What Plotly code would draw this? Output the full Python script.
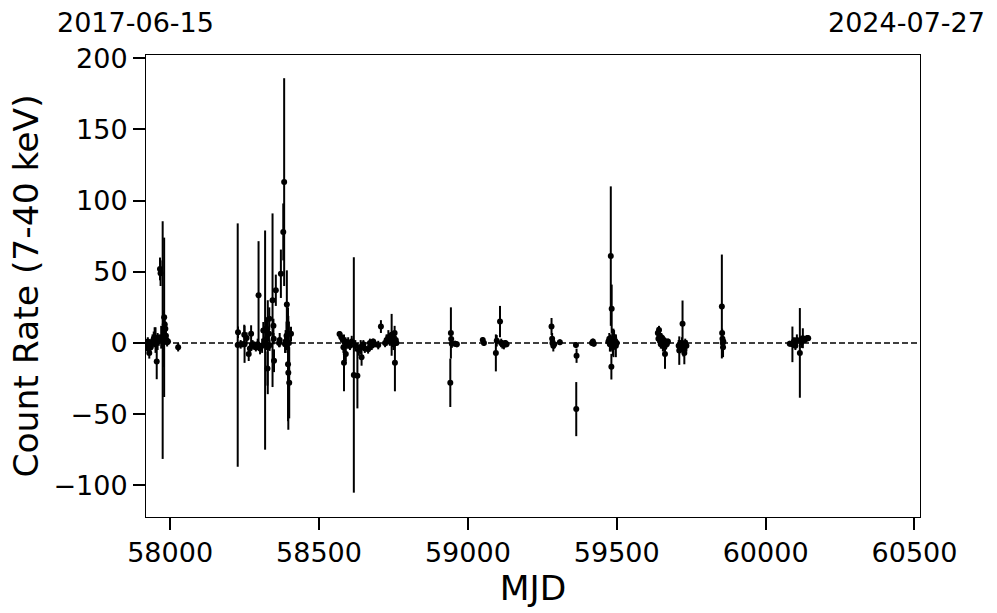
import plotly.graph_objects as go

# ---- data ----
mjd = [
    # 2017 cluster
    57922, 57925, 57927, 57930, 57934, 57938, 57941, 57945, 57948, 57951, 57955, 57958, 57962,
    57966, 57968, 57970, 57975, 57978, 57980, 57982, 57984, 57986, 57988, 57990, 57993, 58027,
    # 2018 cluster
    58227, 58228, 58237, 58243, 58249, 58250, 58257, 58264, 58268, 58272, 58277, 58283, 58288,
    58294, 58297, 58302, 58309, 58313, 58319, 58321, 58322, 58327, 58328, 58332, 58333, 58334,
    58344, 58347, 58348, 58349, 58355, 58366, 58368, 58372, 58380, 58383, 58386, 58388, 58391,
    58392, 58396, 58397, 58399, 58400, 58406,
    # 2019 cluster
    58569, 58575, 58580, 58582, 58584, 58589, 58590, 58593, 58598, 58604, 58610, 58617, 58622,
    58629, 58634, 58640, 58643, 58649, 58654, 58665, 58671, 58677, 58682, 58688, 58699, 58708,
    58722, 58727, 58733, 58738, 58744, 58749, 58750, 58754, 58755, 58758, 58760,
    # 2020
    58941, 58943, 58944, 58946, 58957, 58963, 59050, 59054, 59094, 59097, 59108, 59112, 59116,
    59121, 59126, 59130,
    # 2021
    59281, 59283, 59284, 59287, 59290, 59309, 59363, 59364, 59365, 59417, 59420, 59423,
    59472, 59475, 59477, 59479, 59480, 59482, 59483, 59485, 59487, 59489, 59491, 59493, 59495,
    59497, 59500,
    # 2022
    59638, 59640, 59642, 59644, 59646, 59648, 59650, 59652, 59655, 59658, 59660, 59662, 59665,
    59668, 59672, 59708, 59710, 59715, 59719, 59721, 59724, 59727, 59730, 59734,
    59853, 59854, 59855, 59856, 59857, 59858,
    # 2023
    60081, 60090, 60095, 60100, 60105, 60115, 60120, 60125, 60132, 60140, 60143,
]

rate = [
    -2, 1, -4, -7, -3, -1, 1, 3, 4, 2, -13, 1, 2,
    52, 49, 4, 2, 3, 18, 13, 10, 5, 2, 0.5, 1, -3,
    -1.5, 7.5, -1, -1, 5.8, -1, 3.4, -7.7, -4, 6.4, -1, -2, -3,
    -1, 33.5, -4, -2, 8.7, 2, 0, 10, -18, -3, 6.4, 17, -1.6,
    30, 12, 3, -12.5, 37, 0, 2, 48.6, 78, 113, -1, 1, 5,
    27, -15, -21, 0, -28, 6.4,
    6.3, 4, 2, -3, -14, 1, -7.7, -1, 0, -2, 1, -22.5, -2,
    -23, -5, -3, -10, -1, -4, -4.5, 0, -2, 1, -1, -1.5, 11.5,
    0, 2, 4, 1, 5.7, 3, -1, 7, -14, 2, 0,
    -28, 7, 2.8, -0.5, -0.5, -1, 2, 0, -7, 1.5, 15, 0, -1,
    -1.5, 0, -1,
    11.5, 3, 0, -2, -1, 0.5, -1.5, -46.5, -9, 0, 1, -0.5,
    1, 3, -1, 0, 61, -16.7, 24, 2, -3, 0, 4, -1, 1,
    -2, 0,
    7, 3, 9, 5, 1, -1, 4, 0, -2, 2, -3, -7.7, 0,
    -1, 1, -2, -5.4, -1, 0, 13.4, -4.5, -7, 0, -2,
    25.6, 7, 3, 0, -3, 1,
    -0.5, -1, 1, -2, 2, -7, 0.5, 3.3, 2, 3.5, 3.3,
]

err = [
    3, 3, 4, 4, 3, 4, 5, 5, 7, 9, 12.5, 6, 4,
    8, 9, 8, 83.5, 20, 56, 6, 5, 4, 3, 3, 2, 3,
    85.5, 4, 3, 2, 7, 13, 4, 5, 4, 6, 3, 3, 3,
    4, 38, 4, 5, 6, 77, 5, 8, 12, 33, 5, 8, 4,
    61, 5, 4, 8, 11, 3, 5, 17, 20, 73, 6, 8, 10,
    24, 40, 40, 15, 25, 5,
    2, 3, 3, 4, 20, 3, 5, 3, 4, 3, 4, 82.7, 4,
    23, 4, 5, 6, 3, 3, 3, 3, 3, 2, 2, 3, 4.5,
    3, 4, 5, 3, 14.7, 5, 4, 5, 20, 3, 2,
    17, 18, 5, 3, 2, 2, 2, 2, 13, 4, 11, 3, 3,
    3, 2, 2,
    6, 4, 3, 4, 3, 2, 2, 19, 5, 2, 2, 2,
    3, 4, 5, 6, 49, 9, 17, 8, 6, 10, 5, 3, 2,
    8, 3,
    4, 3, 3, 4, 3, 3, 3, 3, 4, 3, 3, 10.5, 3,
    2, 2, 4, 10, 3, 4, 16.4, 5, 8, 3, 4,
    36.5, 3, 4, 3, 7, 3,
    2, 12.5, 3, 3, 4, 31.5, 4, 7, 2, 2, 2,
]

x_range = [57919, 60518.5]
y_range = [-122.3, 202.3]
x_ticks = [58000, 58500, 59000, 59500, 60000, 60500]
x_ticktext = ["58000", "58500", "59000", "59500", "60000", "60500"]
y_ticks = [-100, -50, 0, 50, 100, 150, 200]
y_ticktext = ["\u2212100", "\u221250", "0", "50", "100", "150", "200"]
date_left = "2017-06-15"
date_right = "2024-07-27"

FONT = "DejaVu Sans"

fig = go.Figure()
fig.add_trace(go.Scatter(
    x=mjd, y=rate, mode="markers",
    marker=dict(color="black", size=6),
    error_y=dict(type="data", array=err, visible=True, color="black", thickness=2, width=0),
    showlegend=False,
))

fig.add_shape(type="line", xref="paper", yref="y", x0=0, x1=1, y0=0, y1=0,
              line=dict(color="black", width=1.5, dash="6px,3px"), layer="above")

fig.add_annotation(text=date_left, xref="paper", yref="paper", x=-0.013, y=1.0714,
                   xanchor="center", yanchor="middle", showarrow=False,
                   font=dict(family=FONT, size=27, color="black"))
fig.add_annotation(text=date_right, xref="paper", yref="paper", x=0.983, y=1.0714,
                   xanchor="center", yanchor="middle", showarrow=False,
                   font=dict(family=FONT, size=27, color="black"))

axis_common = dict(
    showline=True, linecolor="black", linewidth=1, mirror=True,
    ticks="outside", ticklen=12, tickwidth=2.4, tickcolor="black",
    showgrid=False, zeroline=False,
    tickfont=dict(family=FONT, size=27, color="black"),
)

fig.update_xaxes(range=x_range, tickvals=x_ticks, ticktext=x_ticktext, **axis_common,
                 title=dict(text="MJD", font=dict(family=FONT, size=34.5, color="black"), standoff=8))
fig.update_yaxes(range=y_range, tickvals=y_ticks, ticktext=y_ticktext, **axis_common,
                 title=dict(text="Count Rate (7-40 keV)", font=dict(family=FONT, size=34.5, color="black"), standoff=4))

fig.update_layout(
    width=997, height=613,
    margin=dict(l=146, r=77, t=55, b=96, autoexpand=False),
    plot_bgcolor="white", paper_bgcolor="white",
    font=dict(family=FONT, color="black"),
)

fig.write_html("out.html", config={"displayModeBar": False},
               post_script="document.body.style.margin='0';document.body.style.overflow='hidden';")
